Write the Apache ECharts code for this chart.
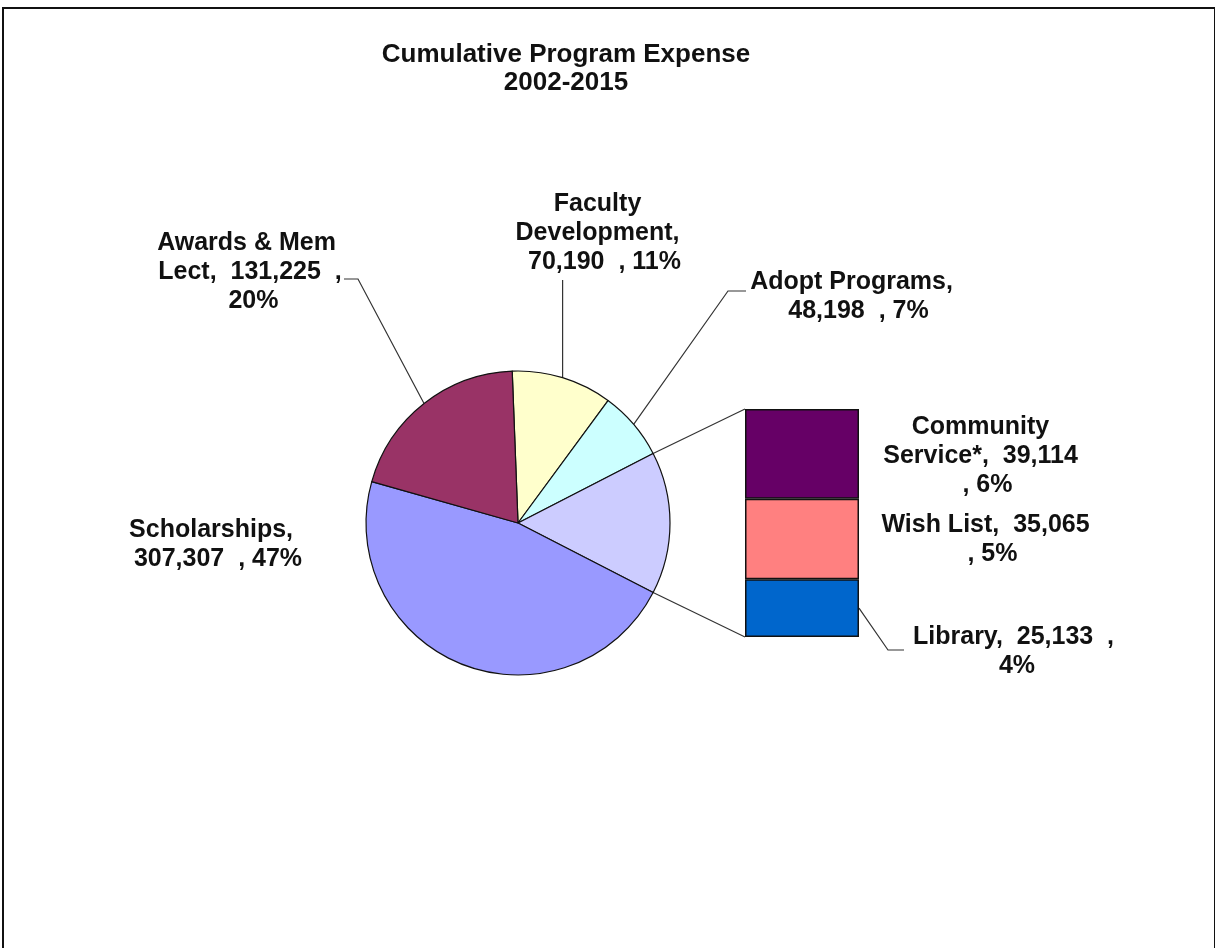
<!DOCTYPE html>
<html>
<head>
<meta charset="utf-8">
<script src="https://cdn.jsdelivr.net/npm/echarts@6/dist/echarts.min.js"></script>
<style>
html, body { margin: 0; padding: 0; background: #fff; }
#frame {
  position: absolute; left: 2px; top: 7px; width: 1210px; height: 960px;
  border-left: 2px solid #111; border-top: 2px solid #111; border-right: 2px solid #111;
}
#main { position: absolute; left: 0; top: 0; width: 1215px; height: 948px; }
</style>
</head>
<body>
<div id="frame"></div>
<div id="main"></div>
<script>
// pie slices, clockwise from the top
const pieNames = ['Faculty Development', 'Adopt Programs', 'Other', 'Scholarships', 'Awards & Mem Lect']
const pieValues = [70190, 48198, null, 307307, 131225]
const pieColors = ['#FFFFCC', '#CCFFFF', '#CCCCFF', '#9999FF', '#993366']

// split-off bar, bottom to top
const barNames = ['Library', 'Wish List', 'Community Service*']
const barValues = [25133, 35065, 39114]
const barColors = ['#0066CC', '#FF8080', '#660066']

const otherTotal = barValues.reduce((a, b) => a + b, 0)
pieValues[2] = otherTotal
const grandTotal = pieValues.reduce((a, b) => a + b, 0)

const FONT = '"Liberation Sans", Arial, sans-serif'
const PIE_CX = 518
const PIE_CY = 523
const PIE_R = 152
const BAR = { left: 745, top: 409, width: 114, height: 228 }

// Excel centres the "Other" slice on 3 o'clock
const otherIdx = 2
const beforeOther = pieValues.slice(0, otherIdx).reduce((a, b) => a + b, 0)
const startAngle = (beforeOther + otherTotal / 2) / grandTotal * 360

const fmt = v => v.toLocaleString('en-US')
const pct = v => Math.round(v / grandTotal * 100)
const labelText = (name, v) => `${name},  ${fmt(v)}  , ${pct(v)}%`

// where each label sits and how wide it wraps
const labelPos = {
  'Faculty Development': { x: 601, y: 233, w: 172 },
  'Adopt Programs': { x: 855, y: 297, w: 215 },
  'Scholarships': { x: 218, y: 545, w: 182 },
  'Awards & Mem Lect': { x: 250, y: 272, w: 190 },
  'Community Service*': { x: 984, y: 456, w: 205 },
  'Wish List': { x: 989, y: 540, w: 222 },
  'Library': { x: 1017, y: 652, w: 212 }
}

const textStyle = {
  fontFamily: FONT,
  fontSize: 25,
  fontWeight: 'bold',
  color: '#111',
  lineHeight: 29,
  overflow: 'break',
  align: 'center'
}

const chart = echarts.init(document.getElementById('main'))

const barSeries = barNames.map((name, i) => ({
  name: name,
  type: 'bar',
  stack: 'other',
  barWidth: '100%',
  data: [barValues[i]],
  itemStyle: { color: barColors[i], borderColor: '#111', borderWidth: 1.5 },
  label: Object.assign({
    show: true,
    position: 'right',
    width: labelPos[name].w,
    formatter: p => labelText(name, p.value)
  }, textStyle),
  labelLayout: () => {
    const pos = labelPos[name]
    return { x: pos.x, y: pos.y, align: 'center', verticalAlign: 'middle' }
  },
  silent: true
}))

chart.setOption({
  animation: false,
  backgroundColor: 'transparent',
  title: {
    text: 'Cumulative Program Expense\n2002-2015',
    left: 561,
    top: 36,
    textAlign: 'center',
    textStyle: { fontFamily: FONT, fontSize: 26, fontWeight: 'bold', color: '#111', lineHeight: 28 }
  },
  grid: { left: BAR.left, top: BAR.top, width: BAR.width, height: BAR.height },
  xAxis: { type: 'category', data: ['Other'], show: false },
  yAxis: { type: 'value', min: 0, max: otherTotal, show: false },
  series: [
    {
      type: 'pie',
      center: [PIE_CX, PIE_CY],
      radius: PIE_R,
      startAngle: startAngle,
      clockwise: true,
      avoidLabelOverlap: false,
      silent: true,
      data: pieNames.map((name, i) => ({
        name: name,
        value: pieValues[i],
        itemStyle: { color: pieColors[i] },
        label: name === 'Other' ? { show: false } : { width: labelPos[name].w },
        labelLine: { show: name !== 'Other' && name !== 'Scholarships' }
      })),
      itemStyle: { borderColor: '#111', borderWidth: 1.2 },
      label: Object.assign({
        show: true,
        position: 'outside',
        formatter: p => labelText(p.name, p.value)
      }, textStyle),
      labelLine: { show: true, lineStyle: { color: '#333', width: 1.2 } },
      labelLayout: params => {
        const name = pieNames[params.dataIndex]
        const pos = labelPos[name]
        if (!pos) return {}
        const p0 = params.labelLinePoints ? params.labelLinePoints[0] : [0, 0]
        const out = { x: pos.x, y: pos.y, align: 'center', verticalAlign: 'middle' }
        if (name === 'Awards & Mem Lect') out.labelLinePoints = [p0, [358, 279], [344, 279]]
        if (name === 'Faculty Development') out.labelLinePoints = [p0, [p0[0], 280], [p0[0], 280]]
        if (name === 'Adopt Programs') out.labelLinePoints = [p0, [728, 291], [746, 291]]
        return out
      }
    }
  ].concat(barSeries)
})

// connector lines from the "Other" slice to the bar
const a1 = (startAngle - beforeOther / grandTotal * 360) * Math.PI / 180
const a2 = (startAngle - (beforeOther + otherTotal) / grandTotal * 360) * Math.PI / 180
const edge = a => [PIE_CX + PIE_R * Math.cos(a), PIE_CY - PIE_R * Math.sin(a)]
const barTop = chart.convertToPixel({ gridIndex: 0 }, [0, otherTotal])
const barBottom = chart.convertToPixel({ gridIndex: 0 }, [0, 0])
const libMid = chart.convertToPixel({ gridIndex: 0 }, [0, barValues[0] / 2])
const lineStyle = { stroke: '#333', lineWidth: 1.2, fill: null }
chart.setOption({
  graphic: [
    { type: 'polyline', shape: { points: [edge(a1), [BAR.left, barTop[1]]] }, style: lineStyle, silent: true },
    { type: 'polyline', shape: { points: [edge(a2), [BAR.left, barBottom[1]]] }, style: lineStyle, silent: true },
    // leader from the Library block to its label
    {
      type: 'polyline',
      shape: { points: [[BAR.left + BAR.width, libMid[1]], [888, 650], [904, 650]] },
      style: lineStyle,
      silent: true
    }
  ]
})
</script>
</body>
</html>
